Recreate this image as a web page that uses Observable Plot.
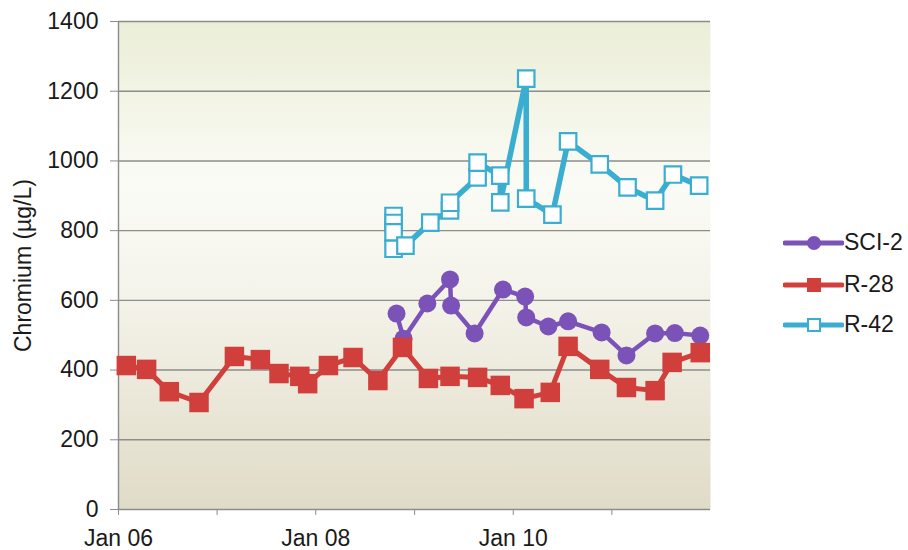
<!DOCTYPE html>
<html>
<head>
<meta charset="utf-8">
<script src="https://cdn.jsdelivr.net/npm/d3@7"></script>
<script src="https://cdn.jsdelivr.net/npm/@observablehq/plot@0.6"></script>
<style>
  html, body { margin: 0; padding: 0; background: white; }
  #wrap { position: relative; width: 908px; height: 550px; font-family: "Liberation Sans", Arial, sans-serif; }
  #legend { position: absolute; left: 783px; top: 0; }
  .row { position: absolute; left: 0; display: flex; align-items: center; white-space: nowrap; font-size: 23px; color: #1a1a1a; }
  .row svg { display: block; }
</style>
</head>
<body>
<div id="wrap"><div id="legend"></div></div>
<script>
// ---- Data ----
const seriesNames = ["SCI-2", "R-28", "R-42"];
const seriesColors = ["#7a52b8", "#d03f3b", "#3aaed0"];

const sci2Dates = ["2008-10-26","2008-11-21","2009-02-17","2009-05-12","2009-05-16","2009-08-11","2009-11-24","2010-02-14","2010-02-18","2010-05-11","2010-07-23","2010-11-24","2011-02-24","2011-06-10","2011-08-22","2011-11-24"];
const sci2Values = [562, 490, 591, 660, 585, 505, 631, 611, 551, 525, 540, 508, 442, 505, 506, 499];

const r28Dates = ["2006-01-30","2006-04-15","2006-07-08","2006-10-26","2007-03-06","2007-06-10","2007-08-18","2007-11-03","2007-12-02","2008-02-17","2008-05-18","2008-08-18","2008-11-17","2009-02-21","2009-05-12","2009-08-22","2009-11-14","2010-02-10","2010-05-18","2010-07-23","2010-11-17","2011-02-24","2011-06-10","2011-08-12","2011-11-24"];
const r28Values = [413, 402, 338, 307, 439, 430, 390, 382, 361, 413, 436, 370, 465, 376, 382, 379, 356, 318, 336, 468, 402, 350, 341, 422, 450];

const r42Dates = ["2008-10-15","2008-10-15","2008-10-15","2008-10-15","2008-11-28","2009-02-28","2009-05-12","2009-05-12","2009-08-22","2009-08-22","2009-11-14","2009-11-14","2010-02-18","2010-02-18","2010-05-26","2010-07-23","2010-11-17","2011-02-28","2011-06-10","2011-08-15","2011-11-20"];
const r42Values = [842, 822, 795, 748, 757, 823, 858, 880, 953, 995, 958, 881, 1236, 892, 846, 1056, 990, 924, 886, 961, 929];

const yTicks = [0, 200, 400, 600, 800, 1000, 1200, 1400];
const xTickDates = ["2006-01-01","2007-01-01","2008-01-01","2009-01-01","2010-01-01","2011-01-01"];
const xTickLabels = ["Jan 06", "", "Jan 08", "", "Jan 10", ""];
const xDomain = ["2006-01-01", "2012-01-01"];
const yDomain = [0, 1400];
const yLabel = "Chromium (µg/L)";

// ---- Build tables ----
const toRows = (dates, values) => dates.map((d, i) => ({date: new Date(d), value: values[i]}));
const sci2 = toRows(sci2Dates, sci2Values);
const r28 = toRows(r28Dates, r28Values);
const r42 = toRows(r42Dates, r42Values);
const xTicks = xTickDates.map(d => new Date(d));
const labelFor = d => xTickLabels[xTicks.findIndex(t => +t === +d)] ?? "";

const gridColor = "#8c8c8c";
const textColor = "#1a1a1a";
const fs = 23;

const chart = Plot.plot({
  width: 908,
  height: 550,
  marginLeft: 118,
  marginRight: 198,
  marginTop: 21,
  marginBottom: 41,
  style: {fontFamily: "Liberation Sans, Arial, sans-serif", fontSize: fs + "px", background: "transparent", overflow: "visible"},
  x: {type: "utc", domain: xDomain.map(d => new Date(d))},
  y: {domain: yDomain},
  marks: [
    Plot.frame({fill: "#f5f5ea", stroke: "none"}),
    Plot.ruleY(yTicks, {stroke: gridColor, strokeWidth: 1.4}),
    Plot.ruleX([new Date(xDomain[0])], {stroke: gridColor, strokeWidth: 1.4}),
    Plot.axisY(yTicks, {tickSize: 8, tickPadding: 12, fontSize: fs, stroke: gridColor, fill: textColor, label: null, tickFormat: d => String(d)}),
    Plot.axisX(xTicks, {tickSize: 6, tickPadding: 14, fontSize: fs, stroke: gridColor, fill: textColor, label: null, tickFormat: labelFor}),
    Plot.text([yLabel], {frameAnchor: "left", textAnchor: "middle", rotate: -90, dx: -95, fontSize: fs, fill: textColor}),
    // SCI-2
    Plot.line(sci2, {x: "date", y: "value", stroke: seriesColors[0], strokeWidth: 4.5}),
    Plot.dot(sci2, {x: "date", y: "value", r: 9, fill: seriesColors[0], stroke: "none"}),
    // R-28
    Plot.line(r28, {x: "date", y: "value", stroke: seriesColors[1], strokeWidth: 5}),
    Plot.dot(r28, {x: "date", y: "value", symbol: "square", r: 11, fill: seriesColors[1], stroke: "none"}),
    // R-42
    Plot.line(r42, {x: "date", y: "value", stroke: seriesColors[2], strokeWidth: 5.5}),
    Plot.dot(r42, {x: "date", y: "value", symbol: "square", r: 9.3, fill: "white", stroke: seriesColors[2], strokeWidth: 2.2})
  ]
});

// gradient background for plot area
const ns = "http://www.w3.org/2000/svg";
const defs = document.createElementNS(ns, "defs");
defs.innerHTML = `<linearGradient id="bgGrad" x1="0" y1="0" x2="0" y2="1">
  <stop offset="0" stop-color="#ebeed7"/>
  <stop offset="0.33" stop-color="#fbfbf6"/>
  <stop offset="0.55" stop-color="#f5f4eb"/>
  <stop offset="1" stop-color="#e0dbc7"/>
</linearGradient>`;
chart.insertBefore(defs, chart.firstChild);
const fr = chart.querySelector('[aria-label="frame"]');
if (fr) {
  const rect = fr.tagName.toLowerCase() === "rect" ? fr : fr.querySelector("rect");
  if (rect) rect.setAttribute("fill", "url(#bgGrad)");
}

const wrap = document.getElementById("wrap");
wrap.insertBefore(chart, wrap.firstChild);

// legend
const legendTops = [240, 282, 322];
const legend = document.getElementById("legend");
seriesNames.forEach((name, i) => {
  const c = seriesColors[i];
  let marker;
  if (i === 0) marker = `<circle cx="31" cy="11" r="7" fill="${c}"/>`;
  else if (i === 1) marker = `<rect x="24" y="4" width="14" height="14" fill="${c}"/>`;
  else marker = `<rect x="25" y="5" width="12" height="12" fill="white" stroke="${c}" stroke-width="2"/>`;
  const row = document.createElement("div");
  row.className = "row";
  row.style.top = (legendTops[i] - 11) + "px";
  row.innerHTML = `<svg width="61" height="22"><line x1="2" x2="59" y1="11" y2="11" stroke="${c}" stroke-width="5" stroke-linecap="round"/>${marker}</svg><span>${name}</span>`;
  legend.appendChild(row);
});
</script>
</body>
</html>
